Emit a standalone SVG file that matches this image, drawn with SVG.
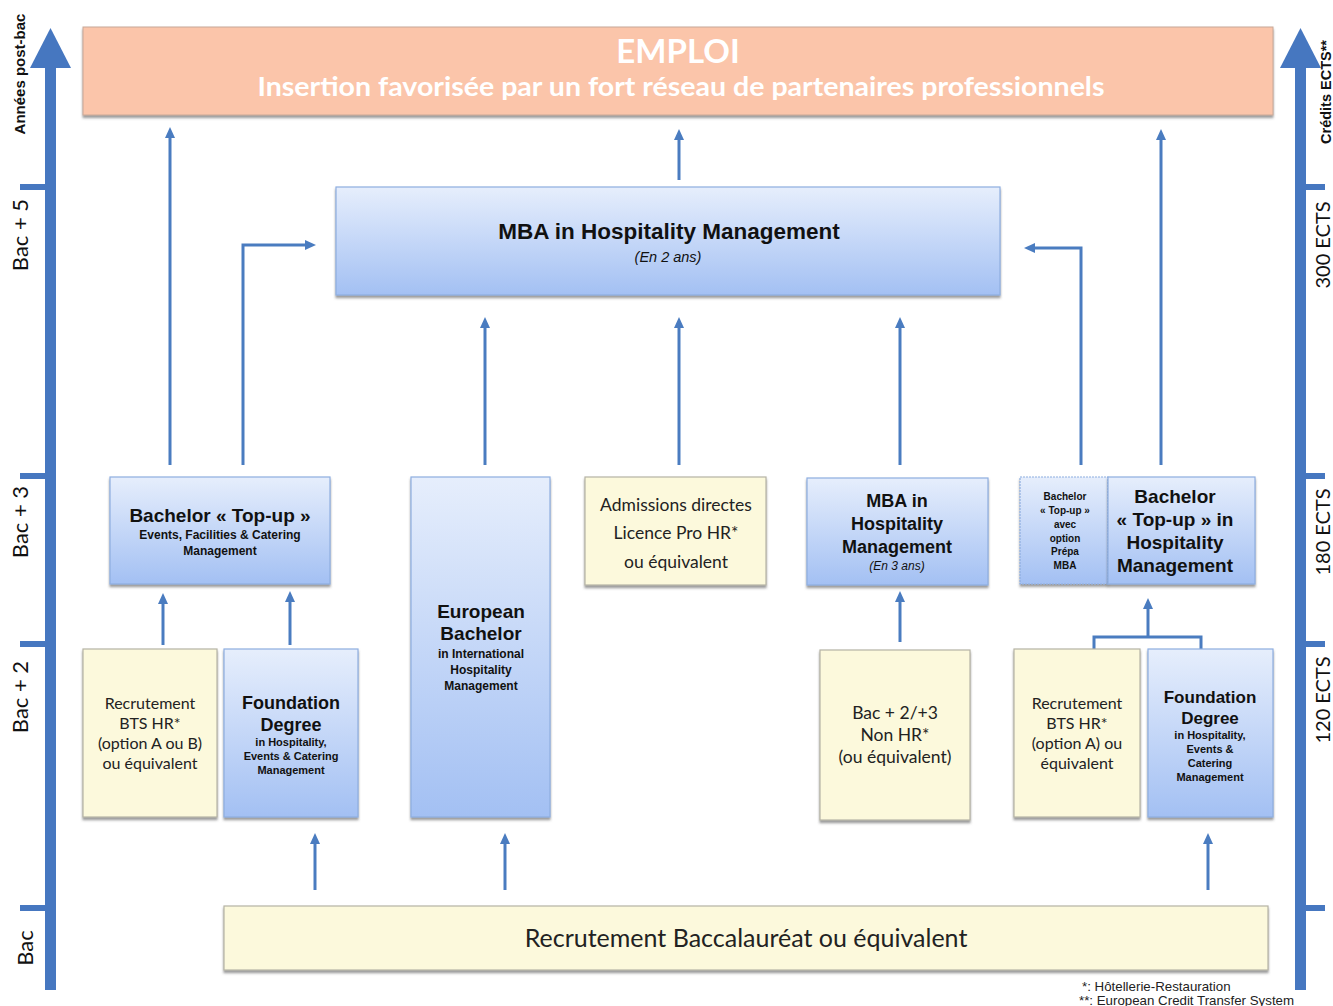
<svg xmlns="http://www.w3.org/2000/svg" width="1333" height="1006" viewBox="0 0 1333 1006">
<style>
.blue{fill:url(#gb);stroke:#8eaee0;stroke-width:1.2;filter:url(#sh)}
.yel{fill:#fcf9dc;stroke:#b5b3a5;stroke-width:1.2;filter:url(#sh)}
.con{stroke:#4a7cc0;stroke-width:3;fill:none}
.arr{stroke:#4a7cc0;stroke-width:3;fill:none;marker-end:url(#ah)}
.axis{fill:#4677c0}
.b{font-family:"Liberation Sans",Arial,sans-serif;font-weight:bold;fill:#111;text-anchor:middle}
.c{font-family:Lato,"Open Sans",sans-serif;fill:#222;text-anchor:middle}
.ax{font-family:Lato,"Open Sans",sans-serif;fill:#111;font-size:22px;text-anchor:middle}
.axs{font-family:"Liberation Sans",Arial,sans-serif;font-weight:bold;fill:#111;text-anchor:middle}
</style>
<defs>
<linearGradient id="gb" x1="0" y1="0" x2="0" y2="1">
<stop offset="0" stop-color="#e6eefc"/>
<stop offset="1" stop-color="#a3c0f3"/>
</linearGradient>
<filter id="sh" x="-5%" y="-5%" width="110%" height="115%">
<feDropShadow dx="0" dy="2.5" stdDeviation="1.2" flood-color="#555" flood-opacity="0.6"/>
</filter>
<marker id="ah" markerWidth="12" markerHeight="10" refX="1" refY="5" orient="auto" markerUnits="userSpaceOnUse">
<path d="M0,0 L11,5 L0,10 Z" fill="#4a7cc0"/>
</marker>
</defs>
<rect width="1333" height="1006" fill="#fff"/>

<!-- axes -->
<g id="axis-left">
<rect class="axis" x="45" y="60" width="11" height="930"/>
<path class="axis" d="M50.5,28 L71,68 L30,68 Z"/>
<rect class="axis" x="20" y="184" width="30" height="6"/>
<rect class="axis" x="20" y="473" width="30" height="6"/>
<rect class="axis" x="20" y="641" width="30" height="6"/>
<rect class="axis" x="20" y="905" width="30" height="6"/>
<text class="axs" font-size="15" transform="translate(25,74) rotate(-90)">Années post-bac</text>
<text class="ax" transform="translate(28,235) rotate(-90)">Bac + 5</text>
<text class="ax" transform="translate(28,522) rotate(-90)">Bac + 3</text>
<text class="ax" transform="translate(28,697) rotate(-90)">Bac + 2</text>
<text class="ax" transform="translate(33,948) rotate(-90)">Bac</text>
</g>
<g id="axis-right">
<rect class="axis" x="1295" y="60" width="11" height="930"/>
<path class="axis" d="M1300.5,28 L1321,68 L1280,68 Z"/>
<rect class="axis" x="1300" y="184" width="25" height="6"/>
<rect class="axis" x="1300" y="473" width="25" height="6"/>
<rect class="axis" x="1300" y="641" width="25" height="6"/>
<rect class="axis" x="1300" y="905" width="25" height="6"/>
<text class="axs" font-size="14.5" transform="translate(1331,92) rotate(-90)">Crédits ECTS**</text>
<text class="ax" transform="translate(1330,245) rotate(-90)" style="font-size:20px">300 ECTS</text>
<text class="ax" transform="translate(1330,532) rotate(-90)" style="font-size:20px">180 ECTS</text>
<text class="ax" transform="translate(1330,700) rotate(-90)" style="font-size:20px">120 ECTS</text>
</g>

<!-- connectors -->
<g id="connectors">
<line class="arr" x1="170" y1="465" x2="170" y2="137"/>
<line class="arr" x1="679" y1="180" x2="679" y2="139"/>
<line class="arr" x1="1161" y1="465" x2="1161" y2="139"/>
<polyline class="arr" points="243,465 243,245 306,245"/>
<polyline class="arr" points="1081,465 1081,248 1034,248"/>
<line class="arr" x1="485" y1="465" x2="485" y2="327"/>
<line class="arr" x1="679" y1="465" x2="679" y2="327"/>
<line class="arr" x1="900" y1="465" x2="900" y2="327"/>
<line class="arr" x1="163" y1="645" x2="163" y2="603"/>
<line class="arr" x1="290" y1="645" x2="290" y2="601"/>
<line class="arr" x1="900" y1="642" x2="900" y2="601"/>
<polyline class="con" points="1094,649 1094,637 1201,637 1201,649"/>
<line class="arr" x1="1148" y1="637" x2="1148" y2="608"/>
<line class="arr" x1="315" y1="890" x2="315" y2="843"/>
<line class="arr" x1="505" y1="890" x2="505" y2="843"/>
<line class="arr" x1="1208" y1="890" x2="1208" y2="843"/>
</g>

<g id="emploi">
<rect x="83" y="27" width="1190" height="88" fill="#fbc5aa" stroke="#c8a898" stroke-width="1" filter="url(#sh)"/>
<text x="678" y="63" font-family="Lato,'Open Sans',sans-serif" font-weight="bold" font-size="33" fill="#fff" text-anchor="middle">EMPLOI</text>
<text x="681" y="96" font-family="Lato,'Open Sans',sans-serif" font-weight="bold" font-size="27" fill="#fff" text-anchor="middle" textLength="847" lengthAdjust="spacingAndGlyphs">Insertion favorisée par un fort réseau de partenaires professionnels</text>
</g>

<g id="mba-2ans">
<rect class="blue" x="336" y="187" width="664" height="108"/>
<text class="b" x="669" y="239" font-size="22.5">MBA in Hospitality Management</text>
<text class="b" x="668" y="262" font-size="14.5" style="font-weight:normal;font-style:italic">(En 2 ans)</text>
</g>

<g id="bachelor-topup-efcm">
<rect class="blue" x="110" y="477" width="220" height="107"/>
<text class="b" x="220" y="522" font-size="19">Bachelor « Top-up »</text>
<text class="b" x="220" y="539" font-size="12">Events, Facilities &amp; Catering</text>
<text class="b" x="220" y="555" font-size="12">Management</text>
</g>

<g id="european-bachelor">
<rect class="blue" x="411" y="477" width="139" height="340"/>
<text class="b" x="481" y="618" font-size="19">European</text>
<text class="b" x="481" y="640" font-size="19">Bachelor</text>
<text class="b" x="481" y="658" font-size="12">in International</text>
<text class="b" x="481" y="674" font-size="12">Hospitality</text>
<text class="b" x="481" y="690" font-size="12">Management</text>
</g>

<g id="admissions">
<rect class="yel" x="585" y="477" width="181" height="108"/>
<text class="c" x="676" y="511" font-size="17.5">Admissions directes</text>
<text class="c" x="676" y="539" font-size="17.5">Licence Pro HR*</text>
<text class="c" x="676" y="568" font-size="17.5">ou équivalent</text>
</g>

<g id="mba-3ans">
<rect class="blue" x="807" y="478" width="181" height="107"/>
<text class="b" x="897" y="507" font-size="18">MBA in</text>
<text class="b" x="897" y="530" font-size="18">Hospitality</text>
<text class="b" x="897" y="553" font-size="18">Management</text>
<text class="b" x="897" y="570" font-size="12" style="font-weight:normal;font-style:italic">(En 3 ans)</text>
</g>

<g id="bachelor-prepa-mba">
<rect class="blue" x="1020" y="477" width="88" height="107" stroke-dasharray="2,1"/>
<text class="b" x="1065" y="500" font-size="10">Bachelor</text>
<text class="b" x="1065" y="514" font-size="10">« Top-up »</text>
<text class="b" x="1065" y="528" font-size="10">avec</text>
<text class="b" x="1065" y="542" font-size="10">option</text>
<text class="b" x="1065" y="555" font-size="10">Prépa</text>
<text class="b" x="1065" y="569" font-size="10">MBA</text>
</g>

<g id="bachelor-topup-hm">
<rect class="blue" x="1108" y="477" width="147" height="107"/>
<text class="b" x="1175" y="503" font-size="19">Bachelor</text>
<text class="b" x="1175" y="526" font-size="19">« Top-up » in</text>
<text class="b" x="1175" y="549" font-size="19">Hospitality</text>
<text class="b" x="1175" y="572" font-size="19">Management</text>
</g>

<g id="bts-left">
<rect class="yel" x="83" y="649" width="134" height="168"/>
<text class="c" x="150" y="709" font-size="16">Recrutement</text>
<text class="c" x="150" y="729" font-size="16">BTS HR*</text>
<text class="c" x="150" y="749" font-size="16">(option A ou B)</text>
<text class="c" x="150" y="769" font-size="16">ou équivalent</text>
</g>

<g id="foundation-left">
<rect class="blue" x="224" y="649" width="134" height="168"/>
<text class="b" x="291" y="709" font-size="18">Foundation</text>
<text class="b" x="291" y="731" font-size="18">Degree</text>
<text class="b" x="291" y="746" font-size="11">in Hospitality,</text>
<text class="b" x="291" y="760" font-size="11">Events &amp; Catering</text>
<text class="b" x="291" y="774" font-size="11">Management</text>
</g>

<g id="bac23">
<rect class="yel" x="820" y="650" width="150" height="170"/>
<text class="c" x="895" y="719" font-size="17.5">Bac + 2/+3</text>
<text class="c" x="895" y="741" font-size="17.5">Non HR*</text>
<text class="c" x="895" y="763" font-size="17.5">(ou équivalent)</text>
</g>

<g id="bts-right">
<rect class="yel" x="1014" y="649" width="126" height="168"/>
<text class="c" x="1077" y="709" font-size="16">Recrutement</text>
<text class="c" x="1077" y="729" font-size="16">BTS HR*</text>
<text class="c" x="1077" y="749" font-size="16">(option A) ou</text>
<text class="c" x="1077" y="769" font-size="16">équivalent</text>
</g>

<g id="foundation-right">
<rect class="blue" x="1148" y="649" width="125" height="168"/>
<text class="b" x="1210" y="703" font-size="17">Foundation</text>
<text class="b" x="1210" y="724" font-size="17">Degree</text>
<text class="b" x="1210" y="739" font-size="11">in Hospitality,</text>
<text class="b" x="1210" y="753" font-size="11">Events &amp;</text>
<text class="b" x="1210" y="767" font-size="11">Catering</text>
<text class="b" x="1210" y="781" font-size="11">Management</text>
</g>

<g id="bac-recrutement">
<rect class="yel" x="224" y="906" width="1044" height="64"/>
<text class="c" x="746" y="947" font-size="25">Recrutement Baccalauréat ou équivalent</text>
</g>

<g id="footnotes">
<text x="1082" y="991" font-family="'Liberation Sans',Arial,sans-serif" font-size="13.3" fill="#222">*: Hôtellerie-Restauration</text>
<text x="1079" y="1005" font-family="'Liberation Sans',Arial,sans-serif" font-size="13.3" fill="#222">**: European Credit Transfer System</text>
</g>
</svg>
